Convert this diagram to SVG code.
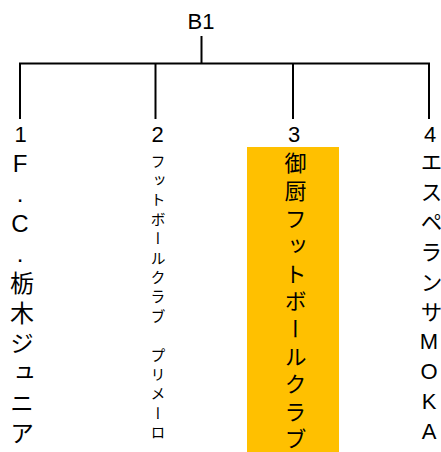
<svg xmlns="http://www.w3.org/2000/svg" width="441" height="452" viewBox="0 0 441 452">
<style>
.ln{stroke:#000;stroke-width:2;fill:none}
.num{font-family:"Liberation Sans","Noto Sans CJK JP",sans-serif;font-size:22px;fill:#000;text-anchor:middle}
.vt{font-family:"Liberation Sans","Noto Sans CJK JP",sans-serif;fill:#000;text-anchor:middle;writing-mode:vertical-rl;text-orientation:upright}
</style>
<rect width="441" height="452" fill="#fff"/>
<g id="connectors">
<line class="ln" x1="201.5" y1="36" x2="201.5" y2="64"/>
<line class="ln" x1="19" y1="63.5" x2="430" y2="63.5"/>
<line class="ln" x1="20" y1="63" x2="20" y2="119"/>
<line class="ln" x1="155.5" y1="63" x2="155.5" y2="119"/>
<line class="ln" x1="293" y1="63" x2="293" y2="119"/>
<line class="ln" x1="429" y1="63" x2="429" y2="119"/>
</g>
<g id="node-B1">
<text class="num" x="201" y="29" font-size="23">B1</text>
</g>
<g id="node-1">
<text class="num" x="20.5" y="142">1</text>
<text class="vt" font-size="24" x="20" y="163 193 223 253 283 313 343 373 403 433">F.C.栃木ジュニア</text>
</g>
<g id="node-2">
<text class="num" x="157.5" y="142">2</text>
<text class="vt" font-size="15" x="157" y="161 180.4 199.8 219.2 238.6 258 277.4 296.8 316.2 335.6 355 374.4 393.8 413.2 432.6">フットボールクラブ　プリメーロ</text>
</g>
<g id="node-3">
<rect x="247" y="147" width="92" height="305" fill="#FFC000"/>
<text class="num" x="294" y="142">3</text>
<text class="vt" font-size="22" x="293" y="163 190.6 218.2 245.8 273.4 301 328.6 356.2 383.8 411.4 439">御厨フットボールクラブ</text>
</g>
<g id="node-4">
<text class="num" x="430" y="142">4</text>
<text class="vt" font-size="22" x="429" y="162 192 222 252 282 311.5 341 371 401 431">エスペランサMOKA</text>
</g>
</svg>
